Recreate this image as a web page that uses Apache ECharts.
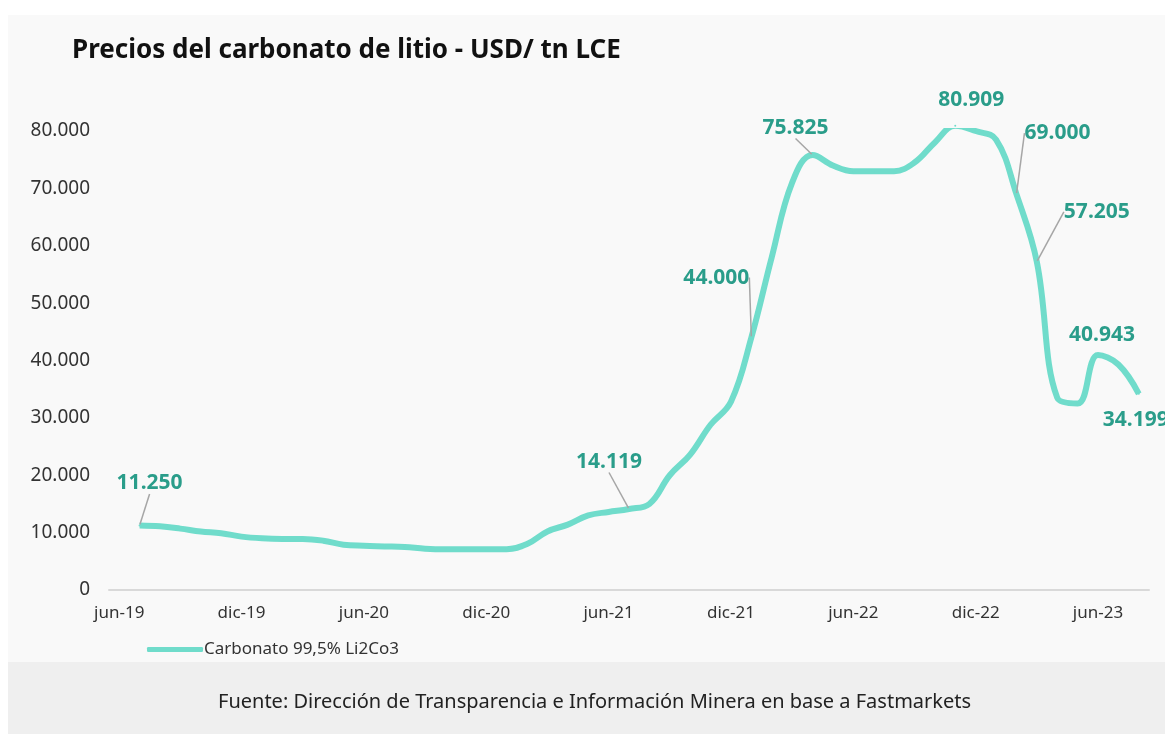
<!DOCTYPE html>
<html>
<head>
<meta charset="utf-8">
<script src="https://cdn.jsdelivr.net/npm/echarts@6/dist/echarts.min.js"></script>
<style>
  html, body { margin: 0; padding: 0; background: #ffffff; }
  #chart { width: 1165px; height: 734px; }
</style>
</head>
<body>
<div id="chart"></div>
<script>
// monthly categories, jun-19 .. ago-23
const months = [
  'jun-19', 'jul-19', 'ago-19', 'sep-19', 'oct-19', 'nov-19',
  'dic-19', 'ene-20', 'feb-20', 'mar-20', 'abr-20', 'may-20',
  'jun-20', 'jul-20', 'ago-20', 'sep-20', 'oct-20', 'nov-20',
  'dic-20', 'ene-21', 'feb-21', 'mar-21', 'abr-21', 'may-21',
  'jun-21', 'jul-21', 'ago-21', 'sep-21', 'oct-21', 'nov-21',
  'dic-21', 'ene-22', 'feb-22', 'mar-22', 'abr-22', 'may-22',
  'jun-22', 'jul-22', 'ago-22', 'sep-22', 'oct-22', 'nov-22',
  'dic-22', 'ene-23', 'feb-23', 'mar-23', 'abr-23', 'may-23',
  'jun-23', 'jul-23', 'ago-23'
];

// USD / tn LCE
const carbonato = [
  null, 11250, 11100, 10700, 10200, 9900,
  9300, 9000, 8900, 8900, 8600, 7900,
  7700, 7600, 7500, 7200, 7100, 7100,
  7100, 7100, 8000, 10200, 11400, 13000,
  13600, 14119, 15000, 20000, 23600, 28800,
  32800, 44000, 58000, 71000, 75825, 74000,
  73000, 73000, 73000, 74500, 78000, 80909,
  80000, 78500, 69000, 57205, 33500, 32500,
  40943, 39300, 34199
];

// points that carry a value label
const labelled = ['jul-19', 'jul-21', 'ene-22', 'abr-22', 'nov-22', 'feb-23', 'mar-23', 'jun-23', 'ago-23'];

const yTicks = [0, 10000, 20000, 30000, 40000, 50000, 60000, 70000, 80000];

const fmt = v => String(v).replace(/\B(?=(\d{3})+(?!\d))/g, '.');

// label offsets from the point (dx, dy) and whether a leader line is drawn
const labelPos = {
  'jul-19': [10, -42, true],
  'jul-21': [-20, -47, true],
  'ene-22': [-35, -60, true],
  'abr-22': [-17, -27, true],
  'nov-22': [16, -26, false],
  'feb-23': [41, -61, true],
  'mar-23': [60, -50, true],
  'jun-23': [4, -20, false],
  'ago-23': [-3, 26, false]
};

const seriesData = carbonato.map((v, i) => {
  const m = months[i];
  if (labelled.indexOf(m) < 0) return v;
  return {
    value: v,
    label: { show: true },
    labelLine: { show: labelPos[m][2] }
  };
});

const chart = echarts.init(document.getElementById('chart'));

const option = {
  backgroundColor: '#ffffff',
  textStyle: { fontFamily: 'Noto Sans' },
  graphic: [
    {
      type: 'rect', z: -10, silent: true,
      shape: { x: 8, y: 15, width: 1157, height: 647 },
      style: { fill: '#f9f9f9' }
    },
    {
      type: 'rect', z: -10, silent: true,
      shape: { x: 8, y: 662, width: 1157, height: 72 },
      style: { fill: '#efefef' }
    },
    {
      type: 'text', silent: true,
      left: 218, top: 692,
      style: {
        text: 'Fuente: Dirección de Transparencia e Información Minera en base a Fastmarkets',
        fill: '#222222',
        font: '20px "Noto Sans"'
      }
    }
  ],
  title: {
    text: 'Precios del carbonato de litio - USD/ tn LCE',
    left: 72,
    top: 38,
    padding: 0,
    textStyle: { fontSize: 26, fontWeight: 'bold', color: '#111111', fontFamily: 'Noto Sans' }
  },
  legend: {
    left: 142,
    top: 636,
    itemWidth: 56,
    itemHeight: 5,
    itemGap: 4,
    icon: 'roundRect',
    textStyle: { fontSize: 17, color: '#333333', padding: [0, 0, 0, -4] },
    data: ['Carbonato 99,5% Li2Co3']
  },
  grid: {
    left: 109,
    right: 16,
    top: 131,
    bottom: 144,
    containLabel: false
  },
  xAxis: {
    type: 'category',
    data: months,
    boundaryGap: true,
    axisLine: { lineStyle: { color: '#d9d9d9', width: 2 } },
    axisTick: { interval: 5, length: 4, lineStyle: { color: '#d9d9d9', width: 2 } },
    axisLabel: { interval: 5, color: '#333333', fontSize: 17, margin: 15 }
  },
  yAxis: {
    type: 'value',
    min: yTicks[0],
    max: yTicks[yTicks.length - 1],
    interval: 10000,
    splitLine: { show: false },
    axisLine: { show: false },
    axisTick: { show: false },
    axisLabel: { color: '#333333', fontSize: 19, margin: 19, formatter: v => fmt(v) }
  },
  series: [
    {
      name: 'Carbonato 99,5% Li2Co3',
      type: 'line',
      data: seriesData,
      smooth: 0.4,
      clip: false,
      connectNulls: false,
      symbol: 'circle',
      symbolSize: 2,
      showSymbol: true,
      itemStyle: { color: '#70dccb' },
      lineStyle: { color: '#70dccb', width: 6 },
      label: {
        show: false,
        position: 'inside',
        color: '#2a9d8a',
        fontSize: 21,
        fontWeight: 'bold',
        formatter: p => fmt(p.value)
      },
      labelLine: {
        show: false,
        lineStyle: { color: '#a6a6a6', width: 1.5 }
      },
      labelLayout: p => {
        const pos = labelPos[months[p.dataIndex]];
        if (!pos) return {};
        return { dx: pos[0], dy: pos[1] };
      },
      emphasis: { disabled: true }
    }
  ]
};

chart.setOption(option);
</script>
</body>
</html>
